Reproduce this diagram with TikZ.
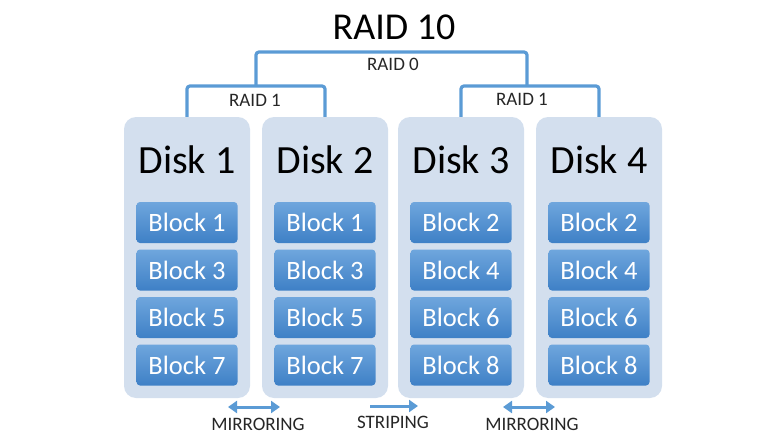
\documentclass[tikz,border=0pt]{standalone}
\usepackage{fontspec}
\setmainfont{Carlito}
\usetikzlibrary{arrows.meta}
\definecolor{panelfill}{HTML}{D3DFEE}
\definecolor{blocktop}{HTML}{6FA6DD}
\definecolor{blockbot}{HTML}{3E80C6}
\definecolor{linecol}{HTML}{5B9BD5}
\tikzset{
  panel/.style={fill=panelfill, rounded corners=12pt, minimum width=126pt, minimum height=281pt, inner sep=0pt},
  disklabel/.style={font=\fontsize{40}{44}\selectfont, text=black},
  blockbox/.style={top color=blocktop, bottom color=blockbot, rounded corners=3.5pt, minimum width=101pt, minimum height=41pt, inner sep=0pt, text=white, font=\fontsize{26.5}{30}\selectfont},
  bracket/.style={draw=linecol, line width=3.2pt, rounded corners=3pt},
  raidlabel/.style={font=\fontsize{19}{22}\selectfont, text=black!85},
  modelabel/.style={font=\fontsize{19}{22}\selectfont, text=black!85},
  modearrow/.style={draw=linecol, line width=3pt, -{Triangle[length=9pt,width=12pt]}},
  mirrorarrow/.style={draw=linecol, line width=3pt, {Triangle[length=9pt,width=12pt]}-{Triangle[length=9pt,width=12pt]}}
}
\begin{document}
\begin{tikzpicture}[x=1pt,y=-1pt]
\useasboundingbox (0,0) rectangle (780,439);
% title
\node[font=\fontsize{38}{42}\selectfont] (title) at (394,27) {RAID 10};
% panels
\foreach \n/\x in {1/187,2/325,3/461,4/599}{
  \node[panel] (d\n) at (\x,257.5) {};
  \node[disklabel] (dl\n) at (\x,160) {Disk \n};
}
% blocks
\foreach \n/\x/\a/\b/\c/\d in {1/187/1/3/5/7,2/325/1/3/5/7,3/461/2/4/6/8,4/599/2/4/6/8}{
  \node[blockbox] (b\n a) at (\x,222.5) {Block \a};
  \node[blockbox] (b\n b) at (\x,270) {Block \b};
  \node[blockbox] (b\n c) at (\x,317.5) {Block \c};
  \node[blockbox] (b\n d) at (\x,365) {Block \d};
}
% brackets
\coordinate (r1) at (256,86);
\coordinate (r2) at (527,86);
\coordinate (r0) at (391,52);
\draw[bracket] (d1.north) -- (d1.north |- r1) -- (d2.north |- r1) -- (d2.north);
\draw[bracket] (d3.north) -- (d3.north |- r2) -- (d4.north |- r2) -- (d4.north);
\draw[bracket] (r1) -- (r1 |- r0) -- (r2 |- r0) -- (r2);
\node[raidlabel] (l1) at (255,100) {RAID 1};
\node[raidlabel] (l2) at (522,99) {RAID 1};
\node[raidlabel] (l0) at (393,64) {RAID 0};
% bottom arrows
\coordinate (m1a) at (228,407);
\coordinate (m1b) at (280,407);
\coordinate (sa) at (370,406);
\coordinate (sb) at (418,406);
\coordinate (m2a) at (503,407);
\coordinate (m2b) at (555,407);
\draw[mirrorarrow] (m1a) -- (m1b);
\draw[modearrow] (sa) -- (sb);
\draw[mirrorarrow] (m2a) -- (m2b);
\node[modelabel] (t1) at (258,424) {MIRRORING};
\node[modelabel] (t2) at (393,422) {STRIPING};
\node[modelabel] (t3) at (532,424) {MIRRORING};
\end{tikzpicture}
\end{document}
